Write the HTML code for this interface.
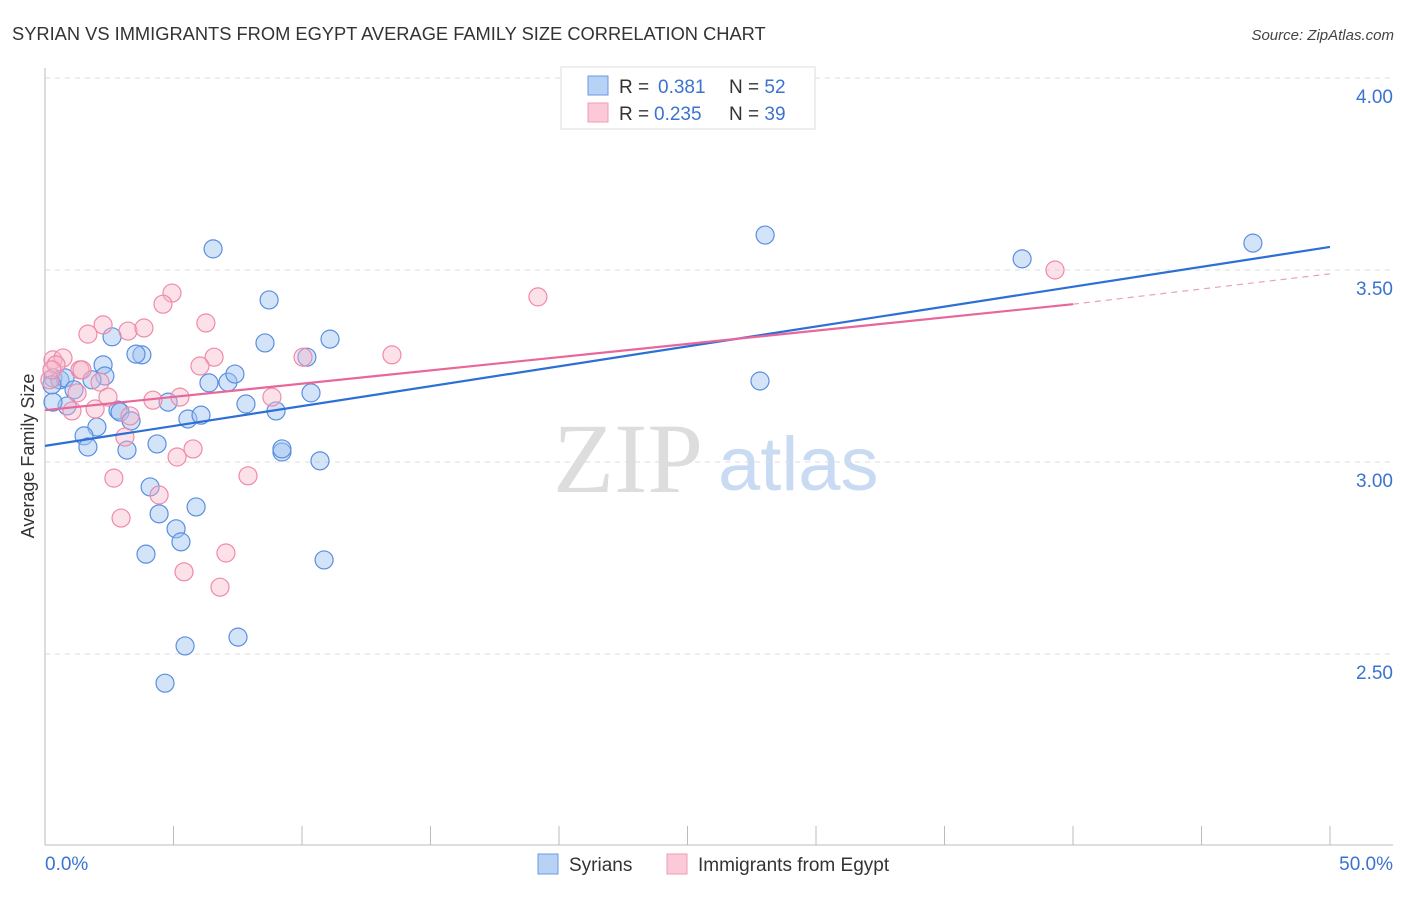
<!DOCTYPE html>
<html><head><meta charset="utf-8"><style>
body{margin:0;background:#fff;width:1406px;height:892px;overflow:hidden;font-family:"Liberation Sans",sans-serif}
svg text{font-family:"Liberation Sans",sans-serif}
</style></head><body>
<svg id="c" width="1406" height="892">
<text x="12" y="40" font-size="18.3" fill="#333">SYRIAN VS IMMIGRANTS FROM EGYPT AVERAGE FAMILY SIZE CORRELATION CHART</text>
<text x="1394" y="40" font-size="15" fill="#444" font-style="italic" text-anchor="end">Source: ZipAtlas.com</text>
<text x="553" y="492" font-size="100" fill="#ddd" style="font-family:'Liberation Serif',serif">ZIP</text>
<text x="718" y="490" font-size="76" fill="#c9daf3">atlas</text>
<g id="grid"></g><g id="axes"></g><g id="pts"></g><g id="trend"></g>
<text transform="translate(34,456) rotate(-90)" font-size="18" fill="#333" text-anchor="middle">Average Family Size</text>
<text x="45" y="870" font-size="19" fill="#3b73d1">0.0%</text>
<text x="1393" y="870" font-size="19" fill="#3b73d1" text-anchor="end">50.0%</text>
<g>
<rect x="561" y="67" width="254" height="62" fill="#fff" stroke="#ddd"/>
<rect x="588" y="76" width="20" height="19" fill="#b8d2f5" stroke="#6a9ae0"/>
<rect x="588" y="103" width="20" height="19" fill="#fbc9d7" stroke="#f09ab4"/>
<text x="619" y="93" font-size="19" fill="#333">R = <tspan x="658" fill="#3b73d1">0.381</tspan><tspan x="729">N = </tspan><tspan fill="#3b73d1">52</tspan></text>
<text x="619" y="120" font-size="19" fill="#333">R = <tspan x="654" fill="#3b73d1">0.235</tspan><tspan x="729">N = </tspan><tspan fill="#3b73d1">39</tspan></text>
</g>
<g>
<rect x="538" y="854" width="20" height="20" fill="#b8d2f5" stroke="#6a9ae0"/>
<text x="569" y="871" font-size="19" fill="#333">Syrians</text>
<rect x="667" y="854" width="20" height="20" fill="#fbc9d7" stroke="#f09ab4"/>
<text x="698" y="871" font-size="19" fill="#333">Immigrants from Egypt</text>
</g>
</svg>
<script>
const yTicks=[2.5,3.0,3.5,4.0];
const yTickLabels=["2.50","3.00","3.50","4.00"];
const syrX=[6.54,28.02,38.02,47.00,8.72,2.61,3.77,3.54,8.56,10.19,11.09,0.31,0.58,0.78,2.26,2.33,1.83,1.13,0.86,0.31,2.84,2.92,3.35,2.02,1.52,1.67,3.19,4.36,4.79,5.56,6.07,6.38,7.12,7.39,7.82,8.99,10.35,9.22,9.22,10.70,27.82,4.09,4.44,5.88,5.10,5.29,3.93,10.86,7.51,5.45,4.67,0.27];
const syrY=[3.555,3.591,3.529,3.570,3.422,3.326,3.279,3.281,3.310,3.273,3.320,3.219,3.214,3.219,3.253,3.224,3.214,3.188,3.146,3.156,3.135,3.130,3.107,3.091,3.068,3.039,3.031,3.047,3.156,3.112,3.122,3.206,3.208,3.229,3.151,3.133,3.180,3.026,3.034,3.003,3.211,2.935,2.865,2.883,2.826,2.792,2.760,2.745,2.544,2.521,2.424,3.201];
const egyX=[39.30,19.18,4.94,4.59,6.26,2.26,1.67,3.23,3.85,6.58,10.04,13.50,0.31,0.70,0.43,1.36,1.44,6.03,2.14,2.45,3.31,1.95,1.05,4.20,5.25,8.83,3.11,5.76,5.14,2.68,7.90,4.44,2.96,7.04,5.41,6.81,1.25,0.19,0.27];
const egyY=[3.500,3.430,3.440,3.411,3.362,3.357,3.333,3.341,3.349,3.273,3.273,3.279,3.266,3.271,3.253,3.240,3.240,3.250,3.208,3.169,3.120,3.138,3.133,3.161,3.169,3.169,3.065,3.034,3.013,2.958,2.964,2.914,2.854,2.763,2.714,2.674,3.180,3.214,3.240];
const syrTrend=[3.042,3.560];
const egyTrend=[3.135,3.411,3.490];
const NS="http://www.w3.org/2000/svg";
const X=v=>45+v*25.7, Y=v=>78+(4-v)*384;
function mk(t,a,p){const e=document.createElementNS(NS,t);for(const k in a)e.setAttribute(k,a[k]);document.getElementById(p).appendChild(e);return e;}
yTicks.forEach((t,i)=>{
 const g=mk('line',{x1:45,x2:1393,y1:Y(t),y2:Y(t),stroke:'#ddd','stroke-dasharray':'5,5'},'grid');
 
 
 const l=mk('text',{x:1393,y:Y(t)+25,'font-size':19,fill:'#3b73d1','text-anchor':'end'},'grid');
 l.textContent=yTickLabels[i];
 
 
});
const ya=mk('line',{x1:45,x2:45,y1:68,y2:845,stroke:'#bbb'},'axes');


const xa=mk('line',{x1:45,x2:1393,y1:845,y2:845,stroke:'#bbb'},'axes');


for(let i=0;i<=10;i++){const tk=mk('line',{x1:X(i*5),x2:X(i*5),y1:826,y2:845,stroke:'#bbb'},'axes');
 
 }
syrX.forEach((x,i)=>{const c=mk('circle',{cx:X(x),cy:Y(syrY[i]),r:9,fill:'rgba(160,195,240,0.45)',stroke:'#5a8fe0','stroke-width':1.2},'pts');
 
 });
egyX.forEach((x,i)=>{const c=mk('circle',{cx:X(x),cy:Y(egyY[i]),r:9,fill:'rgba(248,180,200,0.4)',stroke:'#f08aaa','stroke-width':1.2},'pts');
 
 });
const t1=mk('line',{x1:X(0),y1:Y(syrTrend[0]),x2:X(50),y2:Y(syrTrend[1]),stroke:'#2c6fd6','stroke-width':2.2},'trend');


const t2=mk('line',{x1:X(0),y1:Y(egyTrend[0]),x2:X(40),y2:Y(egyTrend[1]),stroke:'#e8679a','stroke-width':2.2},'trend');


const t3=mk('line',{x1:X(40),y1:Y(egyTrend[1]),x2:X(50),y2:Y(egyTrend[2]),stroke:'#e8a0bc','stroke-width':1.2,'stroke-dasharray':'6,5'},'trend');


</script>
</body></html>
